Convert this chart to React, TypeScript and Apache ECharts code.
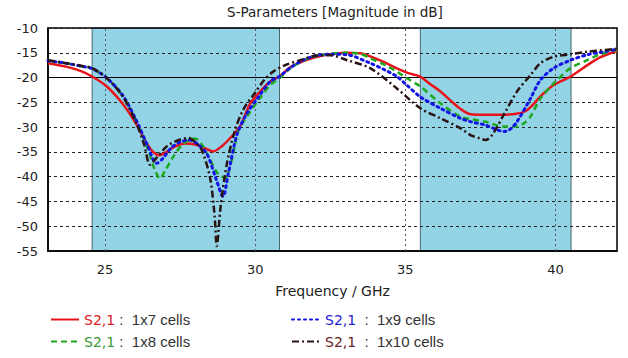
import React, { useEffect, useRef } from "react";
import * as echarts from "echarts";

const redFreq = [23.1, 23.7, 24.2, 24.57, 25.06, 25.6, 26.06, 26.4, 26.6, 26.8, 27.0, 27.3, 27.67, 28.0, 28.3, 28.6, 28.9, 29.2, 29.5, 29.83, 30.2, 30.5, 30.8, 31.2, 31.6, 32.0, 32.5, 33.0, 33.5, 33.9, 34.3, 34.7, 35.1, 35.5, 35.8, 36.17, 36.5, 36.83, 37.17, 37.6, 38.2, 38.7, 39.0, 39.2, 39.5, 39.94, 40.5, 41.06, 41.5, 42.05];
const redVals = [-17.1, -17.8, -18.7, -19.8, -21.8, -25.4, -29.6, -33.4, -35.0, -35.7, -35.2, -34.0, -33.3, -33.5, -34.2, -34.9, -33.8, -32.0, -29.8, -25.3, -22.6, -20.8, -19.8, -17.8, -16.7, -15.9, -15.3, -15.0, -15.1, -15.9, -16.9, -18.1, -19.1, -19.8, -21.2, -22.8, -24.6, -26.3, -27.4, -27.5, -27.5, -27.3, -26.8, -25.8, -23.8, -21.5, -19.8, -17.5, -15.9, -14.6];

const greenFreq = [23.1, 23.7, 24.2, 24.57, 25.06, 25.6, 26.06, 26.4, 26.65, 26.83, 27.0, 27.28, 27.6, 28.0, 28.2, 28.44, 28.78, 29.0, 29.22, 29.44, 29.8, 30.2, 30.5, 30.8, 31.2, 31.6, 32.0, 32.5, 33.0, 33.5, 33.83, 34.3, 34.72, 35.1, 35.5, 36.17, 36.83, 37.17, 37.67, 38.28, 38.72, 39.0, 39.17, 39.5, 39.94, 40.5, 41.06, 41.5, 42.05];
const greenVals = [-16.6, -17.1, -17.7, -18.2, -20.1, -23.9, -29.0, -34.0, -38.5, -40.4, -38.8, -35.9, -33.4, -32.3, -33.3, -35.9, -39.6, -40.2, -36.6, -30.8, -27.2, -23.8, -21.5, -20.2, -18.0, -16.6, -15.7, -15.2, -15.0, -15.2, -16.1, -17.4, -18.8, -20.3, -21.8, -25.2, -27.9, -28.4, -28.9, -29.9, -29.9, -29.0, -27.9, -24.2, -21.2, -18.1, -16.5, -15.3, -14.4];

const blueFreq = [23.1, 23.7, 24.2, 24.57, 25.06, 25.6, 26.06, 26.4, 26.72, 26.9, 27.2, 27.5, 27.8, 28.1, 28.4, 28.7, 28.93, 29.1, 29.39, 29.7, 30.1, 30.5, 30.8, 31.2, 31.6, 32.0, 32.5, 33.06, 33.83, 34.3, 34.72, 35.1, 35.5, 36.17, 36.83, 37.17, 37.67, 38.0, 38.28, 38.5, 38.72, 39.17, 39.5, 39.94, 40.5, 41.06, 41.5, 42.05];
const blueVals = [-16.6, -17.1, -17.7, -18.2, -20.1, -23.7, -28.9, -33.5, -37.3, -36.5, -34.2, -33.0, -32.6, -33.5, -35.5, -40.5, -44.0, -39.5, -31.6, -27.5, -24.0, -20.8, -19.8, -17.9, -16.5, -15.6, -15.3, -15.4, -17.1, -18.4, -19.8, -21.8, -23.9, -26.2, -28.2, -28.9, -29.6, -30.4, -30.9, -30.4, -28.9, -24.2, -20.5, -18.1, -16.5, -15.4, -14.9, -14.3];

const blackFreq = [23.1, 23.7, 24.2, 24.57, 25.06, 25.6, 26.06, 26.3, 26.5, 26.7, 27.0, 27.17, 27.5, 27.78, 28.0, 28.22, 28.5, 28.65, 28.72, 28.85, 29.06, 29.33, 29.6, 30.0, 30.3, 30.6, 31.0, 31.6, 32.0, 32.5, 33.06, 33.83, 34.72, 35.5, 36.17, 36.83, 37.17, 37.5, 37.67, 37.89, 38.28, 38.72, 39.17, 39.5, 39.94, 40.5, 41.06, 41.5, 42.05];
const blackVals = [-16.5, -17.1, -17.6, -18.1, -20.1, -23.9, -29.5, -33.5, -37.6, -36.3, -34.2, -33.4, -32.5, -32.2, -33.0, -34.6, -40.3, -48.0, -54.0, -46.0, -37.3, -30.6, -26.5, -23.0, -20.5, -18.8, -17.5, -16.3, -15.6, -15.5, -16.5, -18.1, -22.2, -26.2, -28.2, -30.2, -31.6, -32.3, -32.6, -31.6, -27.5, -22.8, -19.5, -17.1, -15.8, -15.3, -14.8, -14.5, -14.2];

const seriesNames = ["1x7 cells", "1x8 cells", "1x9 cells", "1x10 cells"];
const xTicks = [25, 30, 35, 40];
const bands = [[24.57, 30.81], [35.5, 40.52]];
const refLevel = -20;

const pairs = (xs: number[], ys: number[]) => xs.map((x, i) => [x, ys[i]]);

export default function App() {
  const ref = useRef<HTMLDivElement>(null);
  useEffect(() => {
    if (!ref.current) return;
    const chart = echarts.init(ref.current, undefined, { renderer: "svg" });
    const legendText = {
      fontFamily: "Liberation Sans",
      fontSize: 15,
      color: "#333",
      rich: {
        r: { color: "#e0201e", fontFamily: "DejaVu Sans", fontSize: 14 },
        g: { color: "#3a9a3a", fontFamily: "DejaVu Sans", fontSize: 14 },
        b: { color: "#2424d0", fontFamily: "DejaVu Sans", fontSize: 14 },
        k: { color: "#6a2424", fontFamily: "DejaVu Sans", fontSize: 14 },
      },
    };
    const richKey: Record<string, string> = {
      [seriesNames[0]]: "r",
      [seriesNames[1]]: "g",
      [seriesNames[2]]: "b",
      [seriesNames[3]]: "k",
    };
    const lineBase = { type: "line", symbol: "none", showSymbol: false, smooth: 0.3, z: 3 };
    const legendBase = {
      orient: "vertical",
      top: 312,
      padding: 0,
      itemWidth: 28,
      itemHeight: 14,
      itemGap: 7,
      itemStyle: { opacity: 0 },
      textStyle: legendText,
    };
    chart.setOption({
      animation: false,
      backgroundColor: "#fff",
      title: {
        text: "S-Parameters [Magnitude in dB]",
        left: 330,
        textAlign: "center",
        top: 0,
        textStyle: { fontFamily: "DejaVu Sans", fontSize: 13.5, fontWeight: "normal", color: "#222" },
      },
      grid: { left: 48, right: 11, top: 28, bottom: 107, show: true, borderColor: "#000", borderWidth: 1.5, backgroundColor: "transparent" },
      legend: [
        {
          ...legendBase,
          left: 50,
          data: [seriesNames[0], seriesNames[1]],
          formatter: (n: string) => `{${richKey[n]}|S2,1} :  ${n}`,
        },
        {
          ...legendBase,
          left: 291,
          data: [seriesNames[2], seriesNames[3]],
          formatter: (n: string) => `{${richKey[n]}|S2,1}  :  ${n}`,
        },
      ],
      xAxis: {
        type: "value",
        min: 23.1,
        max: 42.05,
        name: "Frequency / GHz",
        nameLocation: "middle",
        nameGap: 33,
        nameTextStyle: { fontFamily: "DejaVu Sans", fontSize: 14, color: "#222" },
        axisLine: { lineStyle: { color: "#000", width: 1.5 } },
        axisTick: { show: false },
        splitLine: { show: false },
        axisLabel: { customValues: xTicks, fontFamily: "DejaVu Sans", fontSize: 13, color: "#222", margin: 12 },
      },
      yAxis: {
        type: "value",
        min: -55,
        max: -10,
        interval: 5,
        axisLine: { show: true, lineStyle: { color: "#000", width: 1.5 } },
        axisTick: { show: false },
        axisLabel: { fontFamily: "DejaVu Sans", fontSize: 13, color: "#222", margin: 10 },
        splitLine: { show: true, lineStyle: { color: "#222", type: [3, 3], width: 1 } },
      },
      series: [
        {
          type: "line",
          name: "bands",
          data: [],
          silent: true,
          z: 1,
          markArea: {
            silent: true,
            z: -1,
            itemStyle: { color: "#92d3e6", borderColor: "#4a6670", borderWidth: 1 },
            data: bands.map((b) => [{ xAxis: b[0] }, { xAxis: b[1] }]),
          },
          markLine: {
            silent: true,
            symbol: "none",
            z: 1,
            label: { show: false },
            data: [
              ...xTicks.map((x) => ({ xAxis: x, lineStyle: { color: "#556", type: [2, 3], width: 1 } })),
              { yAxis: refLevel, lineStyle: { color: "#000", type: "solid", width: 1.2 } },
            ],
          },
        },
        {
          ...lineBase,
          name: seriesNames[0],
          data: pairs(redFreq, redVals),
          lineStyle: { color: "#e8141b", width: 2.5, type: "solid" },
          itemStyle: { color: "#e8141b" },
        },
        {
          ...lineBase,
          name: seriesNames[1],
          data: pairs(greenFreq, greenVals),
          lineStyle: { color: "#1ea81e", width: 2.5, type: [6, 4] },
          itemStyle: { color: "#1ea81e" },
        },
        {
          ...lineBase,
          name: seriesNames[2],
          data: pairs(blueFreq, blueVals),
          lineStyle: { color: "#1414e6", width: 3, type: [2, 4], cap: "round" },
          itemStyle: { color: "#1414e6" },
        },
        {
          ...lineBase,
          name: seriesNames[3],
          data: pairs(blackFreq, blackVals),
          lineStyle: { color: "#2a1414", width: 2.5, type: [7, 3, 2, 3] },
          itemStyle: { color: "#2a1414" },
        },
      ],
    });
    return () => chart.dispose();
  }, []);
  return <div ref={ref} style={{ width: 628, height: 358, position: "absolute", left: 0, top: 0 }} />;
}
